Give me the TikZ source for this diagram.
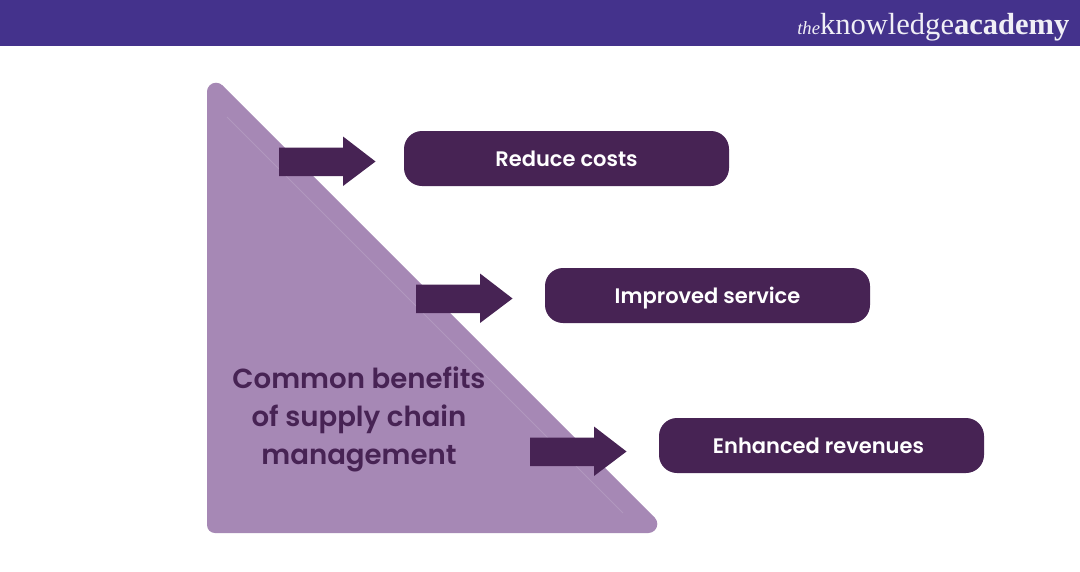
\documentclass[tikz,border=0pt]{standalone}
\usepackage{fontspec}
\setmainfont{Poppins}[UprightFont=* SemiBold,BoldFont=* SemiBold]
\newfontfamily\logofont{Liberation Serif}
\definecolor{hdr}{HTML}{44328C}
\definecolor{dark}{HTML}{472354}
\definecolor{tri}{HTML}{A688B5}
\definecolor{triline}{HTML}{B198BE}
\tikzset{
  x=0.75pt,y=-0.75pt,
  pill/.style={fill=dark,draw=none,rounded corners=13.5pt,minimum width=243.75pt,minimum height=41.25pt,inner sep=0pt,text=white,text height=13.75pt,text depth=1.25pt,font=\fontsize{15.75pt}{18pt}\selectfont},
  blockarrow/.style={fill=dark,draw=none},
  heading/.style={text=dark,align=center,inner sep=0pt,font=\fontsize{20.7pt}{28.5pt}\selectfont},
}
\newcommand{\blockarr}[3]{% left x, centre y, name
  \fill[blockarrow] (#1,#2-14) -- (#1+64,#2-14) -- (#1+64,#2-25) -- (#1+96.5,#2) -- (#1+64,#2+24.5) -- (#1+64,#2+14.5) -- (#1,#2+14.5) -- cycle;
  \coordinate (#3) at (#1+96.5,#2);
}
\begin{document}
\begin{tikzpicture}
\useasboundingbox (0,0) rectangle (1080,571);
\fill[white] (0,0) rectangle (1080,571);
\fill[hdr] (0,0) rectangle (1080,46);
\node[anchor=base west,inner sep=0pt,text=white!92!hdr] (logo) at (797,34) {\logofont\fontsize{14pt}{14pt}\selectfont\textit{the}\fontsize{22.9pt}{22.9pt}\selectfont knowledge\textbf{academy}};
\fill[tri] (216,91.7) circle[radius=9];
\fill[tri] (648.3,524) circle[radius=9];
\fill[tri] (207,91.7) -- (222.4,85.3) -- (654.7,517.6) -- (648.3,533) [rounded corners=6pt] -- (207,533) [sharp corners] -- cycle;
\draw[triline,line width=0.6pt] (227,117) -- (623,513);
\node[heading] (title) at (359,419.5) {Common benefits\\of supply chain\\management};
\blockarr{279}{161.5}{a1}
\blockarr{416}{298.5}{a2}
\blockarr{530}{451.5}{a3}
\node[pill] (b1) at (566.5,158.5) {Reduce costs};
\node[pill] (b2) at (707.5,295.5) {Improved service};
\node[pill] (b3) at (821.5,445.5) {Enhanced revenues\hspace*{4.5pt}};
\end{tikzpicture}
\end{document}
